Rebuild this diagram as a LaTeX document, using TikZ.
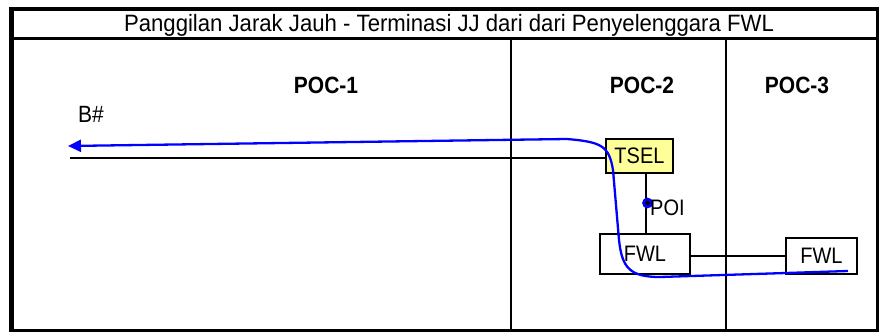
\documentclass[tikz,border=0pt]{standalone}
\usepackage{fontspec}
\setmainfont{Liberation Sans}
\usetikzlibrary{arrows.meta}
\definecolor{tselyellow}{HTML}{FFFF99}
\definecolor{pathblue}{HTML}{0000FF}
\newcommand{\tallx}[1]{\scalebox{1}[1.12]{#1}}
\tikzset{
  frameline/.style={line width=2.4pt, black},
  boxnode/.style={draw=black, line width=2.7pt, fill=white, inner sep=0pt, font=\fontsize{20}{20}\selectfont},
  conn/.style={line width=2.6pt, black},
  bluepath/.style={line width=2.3pt, pathblue, -{Triangle[length=13pt,width=12pt]}},
  poclabel/.style={font=\fontsize{21}{21}\selectfont\bfseries, anchor=base},
  plainlabel/.style={font=\fontsize{20}{20}\selectfont}
}
\begin{document}
\begin{tikzpicture}[x=1pt,y=-1pt]
\path[use as bounding box, fill=white] (0,0) rectangle (879,332);
% frame
\draw[frameline] (11,8.5) rectangle (877.5,330.5);
\draw[line width=5pt] (11,6.5) -- (11,332);
\draw[line width=4pt] (9,8.5) -- (878.5,8.5);
\draw[line width=3pt] (9,330.5) -- (878.5,330.5);
\draw[frameline] (11,38.5) -- (877.5,38.5);
\draw[frameline] (511,38.5) -- (511,330.5);
\draw[frameline] (726,38.5) -- (726,330.5);
% texts
\node[anchor=base, inner sep=0pt, font=\fontsize{21.5}{21.5}\selectfont] (title) at (449,31.7) {\scalebox{1.03}[1.1]{Panggilan Jarak Jauh - Terminasi JJ dari dari Penyelenggara FWL}};
\node[poclabel, inner sep=0pt] (poc1) at (326,93) {\tallx{POC-1}};
\node[poclabel, inner sep=0pt] (poc2) at (642,93) {\tallx{POC-2}};
\node[poclabel, inner sep=0pt] (poc3) at (797,93) {\tallx{POC-3}};
\node[plainlabel, anchor=base west, inner sep=0pt, font=\fontsize{21}{21}\selectfont] (bnum) at (78,122) {\tallx{B\#}};
% boxes
\node[boxnode, fill=tselyellow, minimum width=67pt, minimum height=34pt] (tsel) at (639.5,156) {\tallx{TSEL}};
\node[boxnode, minimum width=90pt, minimum height=40pt] (fwla) at (645,254) {\tallx{FWL}};
\node[boxnode, minimum width=71pt, minimum height=36pt] (fwlb) at (821.5,256) {\tallx{FWL}};
% connectors
\coordinate (lstart) at (70,158);
\draw[conn] (lstart) -- (tsel.west |- lstart);
\draw[conn] (tsel.south -| 646,0) -- (fwla.north -| 646,0);
\draw[conn] (fwla.east |- 0,256) -- (fwlb.west |- 0,256);
% POI
\coordinate (poi) at (647.5,203);
\fill[pathblue] (poi) circle (5.4pt);
\fill[black] (poi) circle (2.4pt);
\node[plainlabel, anchor=base west, inner sep=0pt] (poilabel) at (650,215) {\tallx{POI}};
% blue path
\coordinate (pstart) at (848,271);
\coordinate (pend) at (68,146);
\draw[bluepath] (pstart) -- (786,273) -- (660,277)
  .. controls (630,277) and (622,268) .. (619,240)
  -- (613,170)
  .. controls (609,146) and (602,142) .. (567,139)
  -- (pend);
\end{tikzpicture}
\end{document}
